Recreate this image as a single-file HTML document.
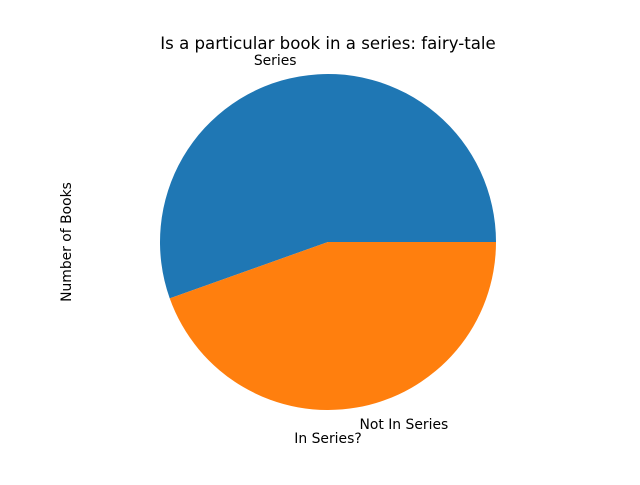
<!DOCTYPE html>
<html><head><meta charset="utf-8"><style>
body{margin:0;background:#fff}
svg text{font-family:"DejaVu Sans","Liberation Sans",sans-serif;}
</style></head><body>
<svg id="chart" width="640" height="480" viewBox="0 0 640 480">
<rect width="640" height="480" fill="#fff"/>
<text x="328" y="49" font-size="16.6" text-anchor="middle">Is a particular book in a series: fairy-tale</text>
<text x="328" y="443" font-size="13.9" text-anchor="middle">In Series?</text>
<text transform="translate(71,242) rotate(-90)" font-size="13.9" text-anchor="middle">Number of Books</text>
<g id="slices"></g>
</svg>
<script>
const categories = ["Series", "Not In Series"];
const values = [56, 45];
const colors = ["#1f77b4", "#ff7f0e"];
const cx = 328, cy = 242, r = 168;
const g = document.getElementById('slices');
const ns = "http://www.w3.org/2000/svg";
const total = values.reduce((a, b) => a + b, 0);
let start = 0;
values.forEach((v, i) => {
  const sweep = v / total * 2 * Math.PI;
  const end = start + sweep;
  const x1 = cx + r * Math.cos(start), y1 = cy - r * Math.sin(start);
  const x2 = cx + r * Math.cos(end), y2 = cy - r * Math.sin(end);
  const large = sweep > Math.PI ? 1 : 0;
  const p = document.createElementNS(ns, 'path');
  p.setAttribute('d', `M${cx},${cy} L${x1},${y1} A${r},${r} 0 ${large} 0 ${x2},${y2} Z`);
  p.setAttribute('fill', colors[i]);
  
  
  g.appendChild(p);
  const mid = start + sweep / 2;
  const lx = cx + 1.1 * r * Math.cos(mid), ly = cy - 1.1 * r * Math.sin(mid);
  const t = document.createElementNS(ns, 'text');
  t.setAttribute('x', lx);
  t.setAttribute('y', ly + 5);
  t.setAttribute('font-size', '13.9');
  t.setAttribute('text-anchor', Math.cos(mid) >= 0 ? 'start' : 'end');
  t.textContent = categories[i];
  
  
  g.appendChild(t);
  start = end;
});
</script>
</body></html>
